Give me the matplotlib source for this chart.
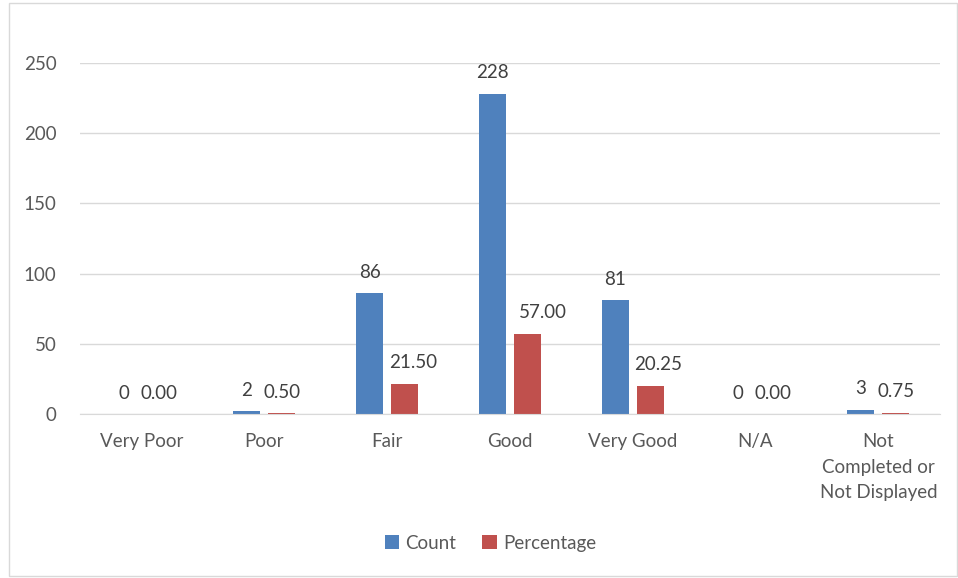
import numpy as np
import matplotlib
matplotlib.use('Agg')
import matplotlib.pyplot as plt
from matplotlib.patches import Rectangle

categories = ['Very Poor', 'Poor', 'Fair', 'Good', 'Very Good', 'N/A',
              'Not\nCompleted or\nNot Displayed']
count = [0, 2, 86, 228, 81, 0, 3]
percentage = [0.00, 0.50, 21.50, 57.00, 20.25, 0.00, 0.75]

blue = '#4f81bd'
red = '#c0504d'
text_col = '#595959'

plt.rcParams['font.family'] = ['Lato', 'DejaVu Sans']
fs = 13.5

fig = plt.figure(figsize=(9.58, 5.78), dpi=100)
ax = fig.add_axes([0.0835, 0.2837, 0.8975, 0.6073])

x = np.arange(len(categories))
w = 0.22
off = 0.142
b1 = ax.bar(x - off, count, w, color=blue, label='Count')
b2 = ax.bar(x + off, percentage, w, color=red, label='Percentage')

for rect, v in zip(b1, count):
    ax.annotate(f'{v}', (rect.get_x() + rect.get_width() / 2, v),
                xytext=(0, 9), textcoords='offset points',
                ha='center', va='bottom', fontsize=fs, color='#404040')

# the larger percentage labels were nudged to the right in the original
nudge = {2: 6, 3: 11, 4: 6}
for i, (rect, v) in enumerate(zip(b2, percentage)):
    ax.annotate(f'{v:.2f}', (rect.get_x() + rect.get_width() / 2, v),
                xytext=(nudge.get(i, 0), 9), textcoords='offset points',
                ha='center', va='bottom', fontsize=fs, color='#404040')

ax.set_xlim(-0.5, len(categories) - 0.5)
ax.set_ylim(0, 250)
ax.set_yticks(range(0, 251, 50))
ax.yaxis.grid(True, color='#d9d9d9', linewidth=1)
ax.set_axisbelow(True)
for s in ['top', 'right', 'left']:
    ax.spines[s].set_visible(False)
ax.spines['bottom'].set_color('#d9d9d9')
ax.tick_params(axis='both', length=0, labelsize=fs, colors=text_col)
ax.tick_params(axis='y', pad=17)
ax.tick_params(axis='x', pad=14)
ax.set_xticks(x)
ax.set_xticklabels(categories, linespacing=1.6)

leg = fig.legend(handles=[b1, b2], labels=['Count', 'Percentage'],
                 loc='center', bbox_to_anchor=(0.512, 0.06), ncol=2,
                 frameon=False, fontsize=fs, handlelength=0.75,
                 handleheight=0.75, handletextpad=0.35, columnspacing=1.4)
for t in leg.get_texts():
    t.set_color(text_col)

fig.patches.append(Rectangle((9 / 958, 2 / 578), 948 / 958, 573 / 578,
                             transform=fig.transFigure, fill=False,
                             edgecolor='#d9d9d9', linewidth=1))

fig.savefig('out.png', dpi=100)
